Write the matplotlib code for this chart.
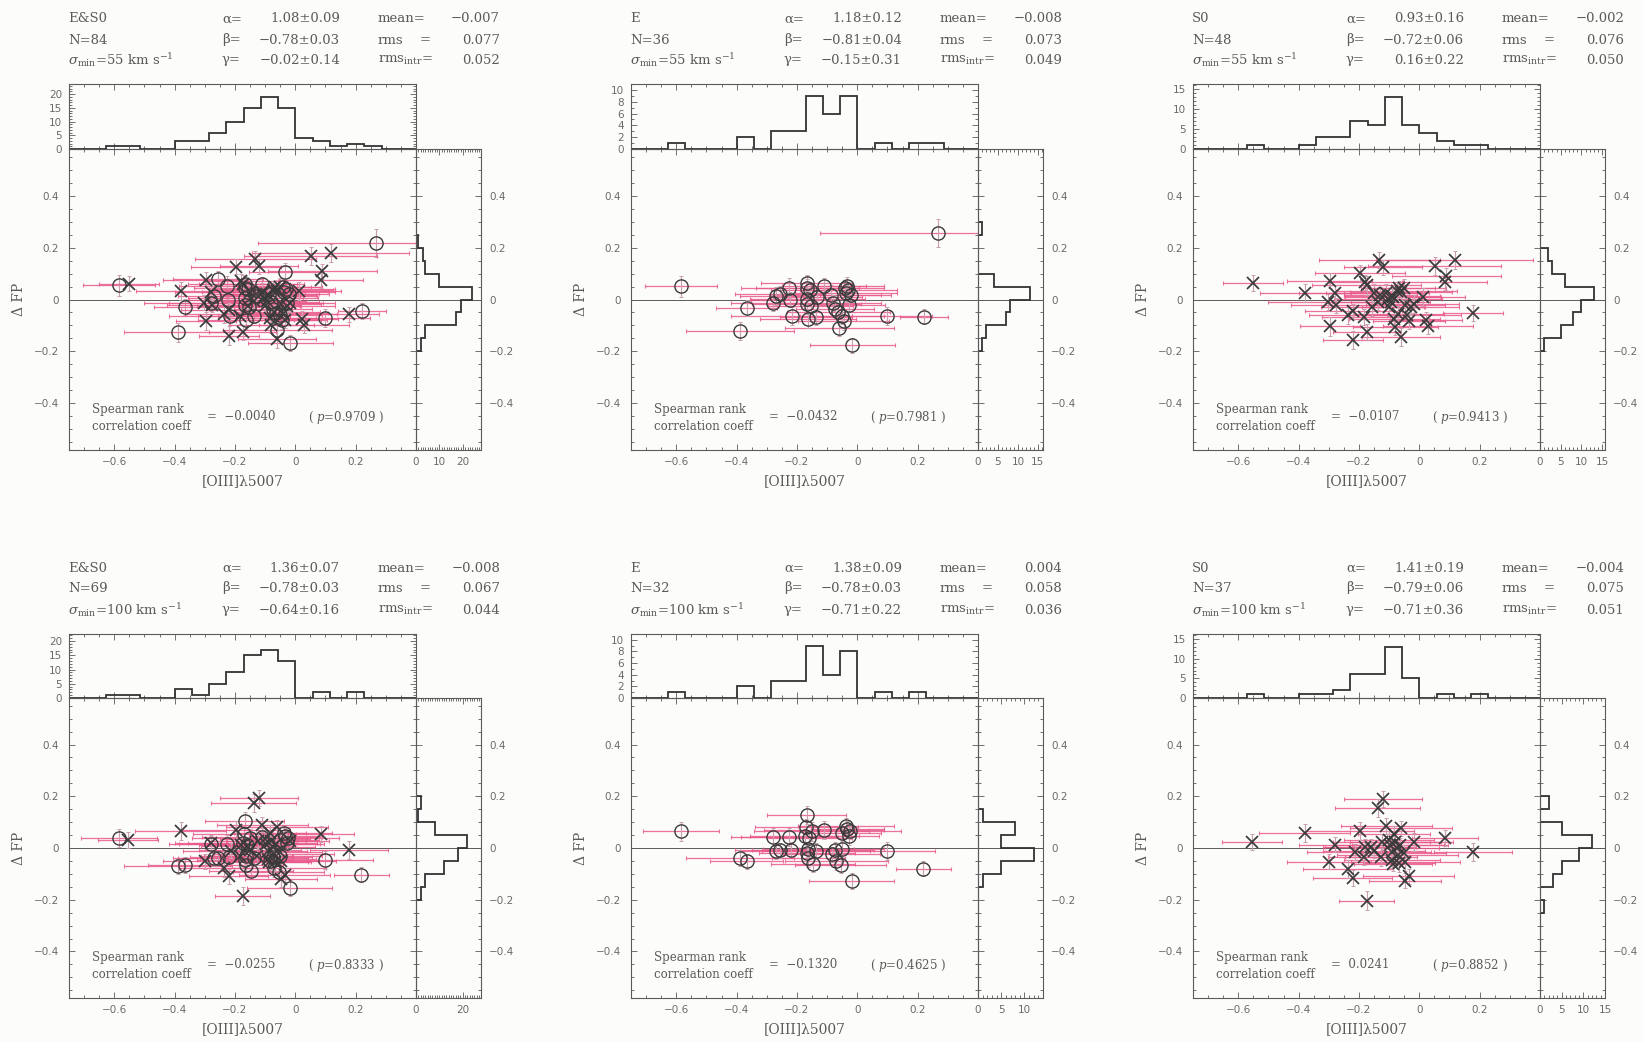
import numpy as np
import matplotlib
matplotlib.use('Agg')
import matplotlib.pyplot as plt
from matplotlib.ticker import MultipleLocator, FuncFormatter, FixedLocator

plt.rcParams['mathtext.fontset'] = 'dejavuserif'

# ---------------- data ----------------
# E sample, sigma_min = 55 km/s
x_E55 = [-0.585, -0.389, -0.367, -0.280, -0.270, -0.256, -0.225, -0.222, -0.218,
         -0.168, -0.166, -0.157, -0.166, -0.155, -0.163, -0.137, -0.135, -0.168,
         -0.110, -0.088, -0.080, -0.074, -0.063, -0.060,
         -0.045, -0.051, -0.041, -0.033, -0.030, -0.022, -0.037, -0.016, -0.028,
         0.097, 0.222, 0.268]
dfp_E55 = [0.051, -0.120, -0.032, -0.013, 0.013, 0.022, 0.044, 0.000, -0.063,
           0.063, 0.044, 0.038, 0.003, -0.025, -0.076, -0.067, 0.009, -0.019,
           0.051, 0.019, -0.013, -0.035, -0.048, -0.111,
           -0.082, -0.063, 0.045, 0.053, 0.038, 0.019, 0.025, -0.177, -0.020,
           -0.063, -0.066, 0.256]
xerr_E55 = [0.12, 0.18, 0.10, 0.14, 0.12, 0.15, 0.16, 0.13, 0.20,
            0.15, 0.17, 0.13, 0.19, 0.14, 0.16, 0.12, 0.15, 0.18,
            0.14, 0.20, 0.16, 0.13, 0.17, 0.18,
            0.15, 0.14, 0.13, 0.12, 0.16, 0.10, 0.17, 0.14, 0.12,
            0.15, 0.08, 0.39]
yerr_E55 = [0.040, 0.035, 0.030, 0.030, 0.035, 0.030, 0.040, 0.030, 0.035,
            0.030, 0.035, 0.030, 0.040, 0.030, 0.035, 0.030, 0.030, 0.035,
            0.030, 0.035, 0.030, 0.030, 0.035, 0.030,
            0.035, 0.030, 0.030, 0.035, 0.030, 0.030, 0.035, 0.030, 0.030,
            0.035, 0.030, 0.055]
dfp_ES0_55_E = [0.054, -0.127, -0.029, -0.015, 0.015, 0.078, 0.051, 0.000, -0.063,
                0.060, 0.044, 0.040, 0.005, -0.028, -0.080, -0.062, 0.012, -0.022,
                0.058, 0.022, -0.010, -0.038, -0.052, -0.116,
                -0.078, -0.060, 0.048, 0.105, 0.042, 0.022, 0.030, -0.167, -0.015,
                -0.072, -0.045, 0.218]

# S0 sample, sigma_min = 55 km/s
x_S055 = [-0.552, -0.378, -0.297, -0.302, -0.297, -0.279, -0.276, -0.236, -0.219, -0.219,
          -0.196, -0.179, -0.175, -0.182, -0.175, -0.150, -0.133, -0.121, -0.156, -0.129,
          -0.138, -0.109, -0.104, -0.095, -0.090, -0.101, -0.083, -0.079, -0.075, -0.067,
          -0.060, -0.060, -0.069, -0.087, -0.052, -0.041, -0.035, -0.018, -0.046, -0.029,
          0.011, 0.023, 0.029, 0.051, 0.090, 0.085, 0.118, 0.178]
dfp_S055 = [0.064, 0.025, 0.073, -0.010, -0.104, 0.025, -0.023, -0.059, -0.046, -0.157,
            0.102, 0.066, 0.054, -0.068, -0.125, 0.025, 0.153, 0.124, -0.029, 0.018,
            -0.010, 0.025, 0.003, -0.010, 0.015, -0.029, -0.074, -0.106, 0.034, 0.043,
            0.028, -0.144, -0.055, 0.010, 0.043, -0.060, -0.084, -0.017, -0.020, -0.030,
            0.009, -0.080, -0.102, 0.130, 0.092, 0.066, 0.153, -0.051]
xerr_S055 = [0.10, 0.15, 0.14, 0.20, 0.10, 0.12, 0.15, 0.13, 0.16, 0.10,
             0.15, 0.12, 0.18, 0.14, 0.11, 0.16, 0.20, 0.13, 0.17, 0.12,
             0.15, 0.14, 0.18, 0.13, 0.16, 0.12, 0.15, 0.14, 0.20, 0.12,
             0.17, 0.13, 0.15, 0.16, 0.14, 0.18, 0.12, 0.15, 0.13, 0.16,
             0.14, 0.12, 0.15, 0.22, 0.18, 0.14, 0.26, 0.10]
yerr_S055 = [0.030, 0.035, 0.030, 0.030, 0.035, 0.030, 0.030, 0.035, 0.030, 0.035,
             0.030, 0.030, 0.035, 0.030, 0.030, 0.035, 0.030, 0.030, 0.035, 0.030,
             0.030, 0.035, 0.030, 0.030, 0.030, 0.035, 0.030, 0.030, 0.035, 0.030,
             0.030, 0.035, 0.030, 0.030, 0.035, 0.030, 0.030, 0.035, 0.030, 0.030,
             0.035, 0.030, 0.030, 0.035, 0.030, 0.030, 0.035, 0.030]
dfp_ES0_55_S0 = [0.061, 0.032, 0.076, -0.012, -0.082, 0.028, -0.020, -0.055, -0.042, -0.139,
                 0.127, 0.070, 0.058, -0.064, -0.127, 0.030, 0.158, 0.128, -0.025, 0.022,
                 -0.006, 0.028, 0.006, -0.006, 0.018, -0.025, -0.070, -0.100, 0.038, 0.047,
                 0.032, -0.152, -0.050, 0.014, 0.047, -0.056, -0.080, -0.013, -0.016, -0.026,
                 0.034, -0.076, -0.098, 0.167, 0.108, 0.076, 0.180, -0.057]

# E sample, sigma_min = 100 km/s
x_E100 = [-0.585, -0.389, -0.367, -0.280, -0.270, -0.256, -0.225, -0.220, -0.175,
          -0.168, -0.169, -0.159, -0.151, -0.162, -0.166, -0.162, -0.146, -0.137,
          -0.110, -0.085, -0.074, -0.069,
          -0.055, -0.052, -0.050, -0.038, -0.033, -0.027, -0.024, -0.019,
          0.097, 0.219]
dfp_E100 = [0.064, -0.038, -0.052, 0.042, -0.012, -0.009, 0.042, -0.006, 0.045,
            0.127, 0.083, 0.040, 0.064, -0.005, -0.019, -0.038, -0.061, -0.010,
            0.070, -0.025, -0.006, -0.051,
            -0.066, -0.004, 0.057, 0.085, 0.073, 0.045, 0.064, -0.127,
            -0.013, -0.080]
xerr_E100 = [0.125, 0.18, 0.12, 0.14, 0.12, 0.15, 0.16, 0.13, 0.18,
             0.13, 0.17, 0.14, 0.19, 0.15, 0.16, 0.12, 0.14, 0.18,
             0.20, 0.16, 0.13, 0.17,
             0.15, 0.14, 0.13, 0.16, 0.12, 0.10, 0.17, 0.14,
             0.16, 0.09]
yerr_E100 = [0.035, 0.030, 0.030, 0.035, 0.030, 0.030, 0.035, 0.030, 0.030,
             0.035, 0.030, 0.030, 0.035, 0.030, 0.030, 0.035, 0.030, 0.030,
             0.035, 0.030, 0.030, 0.035,
             0.030, 0.030, 0.035, 0.030, 0.030, 0.035, 0.030, 0.030,
             0.035, 0.030]
dfp_ES0_100_E = [0.039, -0.071, -0.065, 0.015, -0.040, -0.037, 0.014, -0.033, 0.018,
                 0.103, 0.056, 0.013, 0.037, -0.032, -0.046, -0.066, -0.088, -0.037,
                 0.043, -0.052, -0.033, -0.078,
                 -0.093, -0.031, 0.030, 0.058, 0.046, 0.018, 0.037, -0.155,
                 -0.045, -0.103]

# S0 sample, sigma_min = 100 km/s
x_S0100 = [-0.555, -0.380, -0.299, -0.279, -0.236, -0.221, -0.213, -0.198, -0.179, -0.183, -0.175,
           -0.161, -0.150, -0.138, -0.121, -0.125, -0.127,
           -0.109, -0.098, -0.092, -0.090, -0.083, -0.079, -0.075, -0.072, -0.067, -0.060, -0.087, -0.101, -0.064,
           -0.052, -0.046, -0.048, -0.035, -0.018,
           0.086, 0.178]
dfp_S0100 = [0.023, 0.058, -0.053, 0.013, -0.081, -0.116, -0.015, 0.067, 0.005, -0.034, -0.203,
             0.004, -0.010, 0.156, 0.190, 0.023, -0.035,
             0.086, 0.010, -0.015, -0.047, 0.055, 0.023, 0.000, -0.028, -0.058, 0.076, -0.060, 0.030, 0.010,
             -0.020, -0.055, -0.126, -0.110, 0.023,
             0.038, -0.015]
xerr_S0100 = [0.10, 0.15, 0.14, 0.12, 0.15, 0.13, 0.16, 0.18, 0.14, 0.12, 0.09,
              0.15, 0.17, 0.14, 0.13, 0.16, 0.12,
              0.15, 0.18, 0.13, 0.16, 0.12, 0.15, 0.14, 0.20, 0.12, 0.17, 0.13, 0.15, 0.16,
              0.14, 0.18, 0.12, 0.15, 0.13,
              0.11, 0.13]
yerr_S0100 = [0.030, 0.035, 0.030, 0.030, 0.035, 0.030, 0.030, 0.035, 0.030, 0.030, 0.035,
              0.030, 0.030, 0.035, 0.030, 0.030, 0.035,
              0.030, 0.030, 0.035, 0.030, 0.030, 0.035, 0.030, 0.030, 0.035, 0.030, 0.030, 0.035, 0.030,
              0.030, 0.035, 0.030, 0.030, 0.035,
              0.030, 0.035]
dfp_ES0_100_S0 = [0.030, 0.065, -0.052, 0.018, -0.078, -0.110, -0.010, 0.070, 0.010, -0.030, -0.185,
                  0.008, -0.006, 0.174, 0.193, 0.027, -0.030,
                  0.090, 0.014, -0.011, -0.043, 0.058, 0.027, 0.004, -0.024, -0.054, 0.080, -0.056, 0.034, 0.014,
                  -0.016, -0.051, -0.120, -0.106, 0.027,
                  0.054, -0.006]

# header / statistics text
sample_names = ['E&S0', 'E', 'S0', 'E&S0', 'E', 'S0']
sample_N = ['84', '36', '48', '69', '32', '37']
sigma_min = ['55', '55', '55', '100', '100', '100']
alpha_txt = ['1.08\u00b10.09', '1.18\u00b10.12', '0.93\u00b10.16', '1.36\u00b10.07', '1.38\u00b10.09', '1.41\u00b10.19']
beta_txt = ['\u22120.78\u00b10.03', '\u22120.81\u00b10.04', '\u22120.72\u00b10.06', '\u22120.78\u00b10.03', '\u22120.78\u00b10.03', '\u22120.79\u00b10.06']
gamma_txt = ['\u22120.02\u00b10.14', '\u22120.15\u00b10.31', '0.16\u00b10.22', '\u22120.64\u00b10.16', '\u22120.71\u00b10.22', '\u22120.71\u00b10.36']
mean_txt = ['\u22120.007', '\u22120.008', '\u22120.002', '\u22120.008', '0.004', '\u22120.004']
rms_txt = ['0.077', '0.073', '0.076', '0.067', '0.058', '0.075']
rmsi_txt = ['0.052', '0.049', '0.050', '0.044', '0.036', '0.051']
rho_txt = ['\u22120.0040', '\u22120.0432', '\u22120.0107', '\u22120.0255', '\u22120.1320', '0.0241']
p_txt = ['0.9709', '0.7981', '0.9413', '0.8333', '0.4625', '0.8852']

# ---------------- layout ----------------
W, H = 1644, 1042
fig = plt.figure(figsize=(W / 100, H / 100), dpi=100, facecolor='#fcfcfa')

def fx(px):
    return px / W

def fy(py):
    return 1 - py / H

PINK = '#ea5a8d'
YPINK = '#c8a0ad'
MK = '#3a3a3a'
SPC = '#5a5a5a'
TXT = '#5a5a5a'
TICKLAB = '#6a6a6a'
SERIF = 'DejaVu Serif'

XLIM = (-0.75, 0.4)
YLIM = (-0.58, 0.58)
edges_x = np.linspace(-0.8, 0.4, 22)
edges_y = np.linspace(-0.6, 0.6, 25)

col_left = [69, 631, 1193]
MW, RW = 347, 65
rows = [dict(htop=84, mtop=149, mbot=450, ty=[19, 40, 60]),
        dict(htop=634, mtop=698, mbot=998, ty=[568, 588, 610])]

groups = [
    [(x_E55, dfp_ES0_55_E, xerr_E55, yerr_E55, 'o'), (x_S055, dfp_ES0_55_S0, xerr_S055, yerr_S055, 'x')],
    [(x_E55, dfp_E55, xerr_E55, yerr_E55, 'o')],
    [(x_S055, dfp_S055, xerr_S055, yerr_S055, 'x')],
    [(x_E100, dfp_ES0_100_E, xerr_E100, yerr_E100, 'o'), (x_S0100, dfp_ES0_100_S0, xerr_S0100, yerr_S0100, 'x')],
    [(x_E100, dfp_E100, xerr_E100, yerr_E100, 'o')],
    [(x_S0100, dfp_S0100, xerr_S0100, yerr_S0100, 'x')],
]
top_ylim = [23.7, 11.0, 16.3, 22.5, 11.0, 16.3]
top_major = [5, 2, 5, 5, 2, 5]
r_xlim = [27.7, 16.3, 15.7, 27.9, 14.0, 15.0]
r_ticks = [[0, 10, 20], [0, 5, 10, 15], [0, 5, 10, 15], [0, 20], [0, 5, 10], [0, 5, 10, 15]]


def fmt_dec(v, pos):
    if abs(v) < 1e-9:
        return '0'
    return ('%.1f' % v).replace('-', '\u2212')


def fmt_int(v, pos):
    return '%d' % round(v)


def base_style(ax):
    ax.set_facecolor('none')
    ax.tick_params(which='both', direction='in', color=SPC, labelcolor=TICKLAB,
                   width=0.6, labelsize=7.5)
    ax.tick_params(which='major', length=4.5)
    ax.tick_params(which='minor', length=2.2)
    for s in ax.spines.values():
        s.set_color(SPC)
        s.set_linewidth(0.8)


for i in range(6):
    r = rows[i // 3]
    L = col_left[i % 3]
    mh = r['mbot'] - r['mtop']
    axm = fig.add_axes([fx(L), fy(r['mbot']), MW / W, mh / H])
    axt = fig.add_axes([fx(L), fy(r['mtop']), MW / W, (r['mtop'] - r['htop']) / H])
    axr = fig.add_axes([fx(L + MW), fy(r['mbot']), RW / W, mh / H])

    # ---- main scatter ----
    base_style(axm)
    axm.axhline(0, color=SPC, lw=0.7, zorder=1)
    for (xx, yy, xe, ye, mk) in groups[i]:
        axm.errorbar(xx, yy, xerr=xe, fmt='none', ecolor=PINK, elinewidth=0.9,
                     capsize=1.5, capthick=0.8, alpha=0.85, zorder=2)
        axm.errorbar(xx, yy, yerr=ye, fmt='none', ecolor=YPINK, elinewidth=0.8,
                     capsize=1.3, capthick=0.7, zorder=2)
    for (xx, yy, xe, ye, mk) in groups[i]:
        if mk == 'o':
            axm.plot(xx, yy, 'o', ms=9.5, mfc='none', mec=MK, mew=1.0, zorder=3)
        else:
            axm.plot(xx, yy, 'x', ms=8, mec=MK, mew=1.25, zorder=3)
    axm.set_xlim(*XLIM)
    axm.set_ylim(*YLIM)
    axm.xaxis.set_major_locator(FixedLocator([-0.6, -0.4, -0.2, 0.0, 0.2]))
    axm.xaxis.set_minor_locator(MultipleLocator(0.05))
    axm.yaxis.set_major_locator(FixedLocator([-0.4, -0.2, 0.0, 0.2, 0.4]))
    axm.yaxis.set_minor_locator(MultipleLocator(0.05))
    axm.xaxis.set_major_formatter(FuncFormatter(fmt_dec))
    axm.yaxis.set_major_formatter(FuncFormatter(fmt_dec))
    axm.tick_params(which='both', top=True, right=True)
    axm.tick_params(axis='x', pad=5)
    axm.tick_params(axis='y', pad=7)
    axm.set_xlabel('[OIII]\u03bb5007', fontsize=10, family=SERIF, color=TXT, labelpad=5)
    axm.set_ylabel('\u0394 FP', fontsize=10, family=SERIF, color=TXT, labelpad=6)

    axm.text(23 / MW, 41 / mh, 'Spearman rank', transform=axm.transAxes,
             fontsize=8.5, family=SERIF, color=TXT, va='center', ha='left')
    axm.text(23 / MW, 24 / mh, 'correlation coeff', transform=axm.transAxes,
             fontsize=8.5, family=SERIF, color=TXT, va='center', ha='left')
    axm.text(138 / MW, 33 / mh, '=  ' + rho_txt[i], transform=axm.transAxes,
             fontsize=8.5, family=SERIF, color=TXT, va='center', ha='left')
    axm.text(239 / MW, 33 / mh, '( $p$=' + p_txt[i] + ' )', transform=axm.transAxes,
             fontsize=8.5, family=SERIF, color=TXT, va='center', ha='left')

    # ---- top histogram ----
    base_style(axt)
    xall = np.concatenate([np.asarray(g[0]) for g in groups[i]])
    axt.hist(xall, bins=edges_x, histtype='step', color='#333333', lw=1.3)
    axt.set_xlim(*XLIM)
    axt.set_ylim(0, top_ylim[i])
    axt.xaxis.set_major_locator(FixedLocator([-0.6, -0.4, -0.2, 0.0, 0.2]))
    axt.xaxis.set_minor_locator(MultipleLocator(0.05))
    axt.yaxis.set_major_locator(MultipleLocator(top_major[i]))
    axt.yaxis.set_minor_locator(MultipleLocator(1))
    axt.yaxis.set_major_formatter(FuncFormatter(fmt_int))
    axt.tick_params(which='both', top=True, right=True, labelbottom=False)
    axt.tick_params(axis='y', pad=5)

    # ---- right histogram ----
    base_style(axr)
    yall = np.concatenate([np.asarray(g[1]) for g in groups[i]])
    axr.hist(yall, bins=edges_y, histtype='step', orientation='horizontal',
             color='#333333', lw=1.3)
    axr.axhline(0, color=SPC, lw=0.7, zorder=1)
    axr.set_ylim(*YLIM)
    axr.set_xlim(0, r_xlim[i])
    axr.xaxis.set_major_locator(FixedLocator(r_ticks[i]))
    axr.xaxis.set_minor_locator(MultipleLocator(1))
    axr.xaxis.set_major_formatter(FuncFormatter(fmt_int))
    axr.yaxis.set_major_locator(FixedLocator([-0.4, -0.2, 0.0, 0.2, 0.4]))
    axr.yaxis.set_minor_locator(MultipleLocator(0.05))
    axr.yaxis.set_major_formatter(FuncFormatter(fmt_dec))
    axr.tick_params(which='both', top=True, left=True, right=True,
                    labelleft=False, labelright=True)
    axr.tick_params(axis='x', pad=5)
    axr.tick_params(axis='y', pad=6)

    # ---- header text ----
    ty = r['ty']
    kw = dict(fontsize=9.5, family=SERIF, color=TXT, va='center')
    fig.text(fx(L - 1), fy(ty[0]), sample_names[i], ha='left', **kw)
    fig.text(fx(L - 1), fy(ty[1]), 'N=' + sample_N[i], ha='left', **kw)
    fig.text(fx(L - 1), fy(ty[2]), r'$\sigma_{\rm min}$=' + sigma_min[i] + r' km s$^{-1}$', ha='left', **kw)
    fig.text(fx(L + 153), fy(ty[0]), '\u03b1=', ha='left', **kw)
    fig.text(fx(L + 153), fy(ty[1]), '\u03b2=', ha='left', **kw)
    fig.text(fx(L + 153), fy(ty[2]), '\u03b3=', ha='left', **kw)
    fig.text(fx(L + 271), fy(ty[0]), alpha_txt[i], ha='right', **kw)
    fig.text(fx(L + 271), fy(ty[1]), beta_txt[i], ha='right', **kw)
    fig.text(fx(L + 271), fy(ty[2]), gamma_txt[i], ha='right', **kw)
    fig.text(fx(L + 309), fy(ty[0]), 'mean=', ha='left', **kw)
    fig.text(fx(L + 309), fy(ty[1]), 'rms', ha='left', **kw)
    fig.text(fx(L + 351), fy(ty[1]), '=', ha='left', **kw)
    fig.text(fx(L + 309), fy(ty[2]), r'rms$_{\rm intr}$=', ha='left', **kw)
    fig.text(fx(L + 431), fy(ty[0]), mean_txt[i], ha='right', **kw)
    fig.text(fx(L + 431), fy(ty[1]), rms_txt[i], ha='right', **kw)
    fig.text(fx(L + 431), fy(ty[2]), rmsi_txt[i], ha='right', **kw)

fig.savefig('out.png', dpi=100, facecolor=fig.get_facecolor())
